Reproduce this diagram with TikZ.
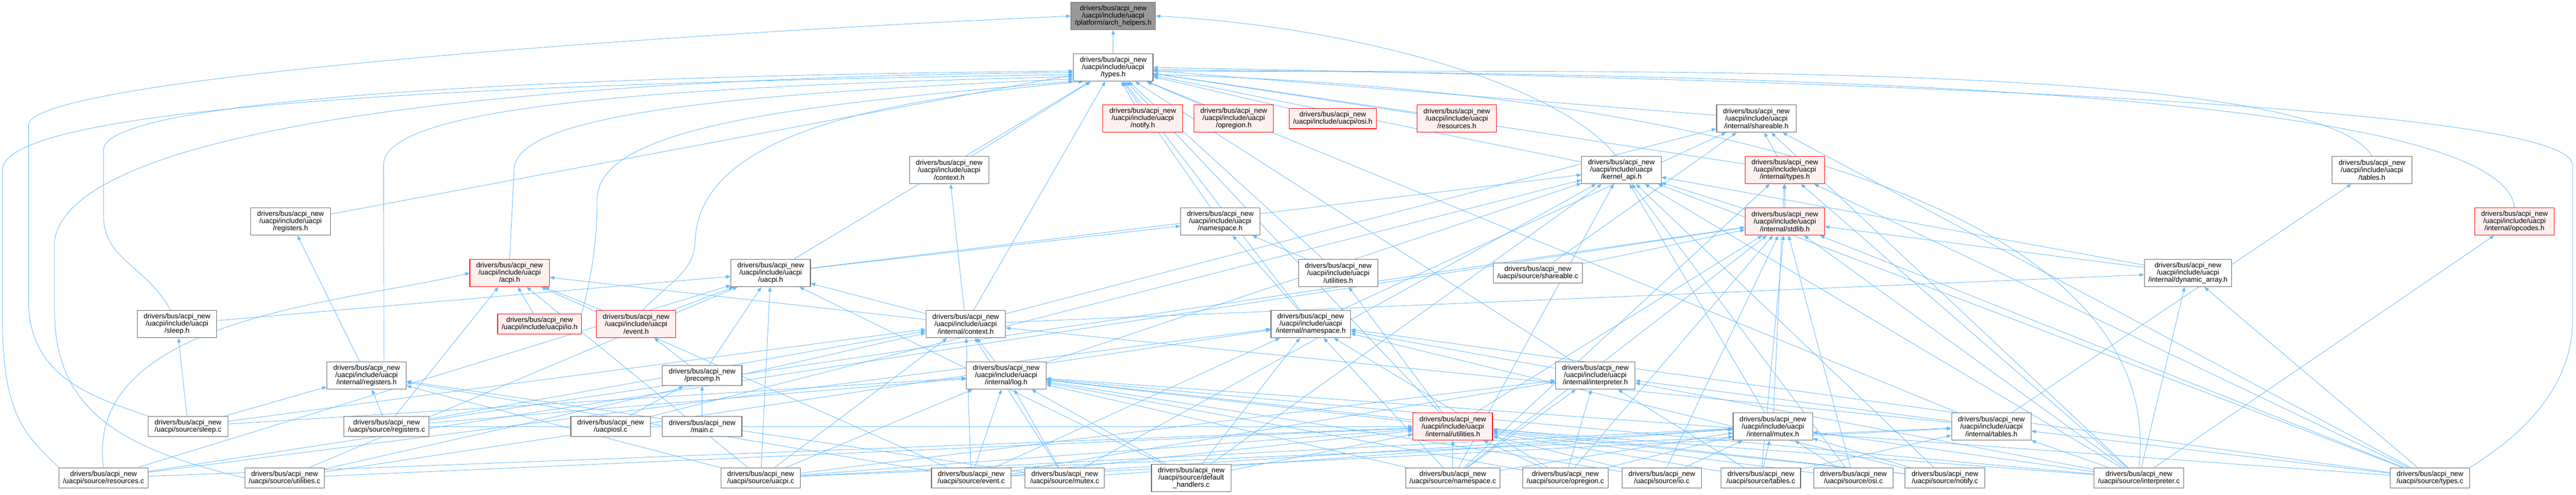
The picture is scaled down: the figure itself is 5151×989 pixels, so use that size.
\documentclass[tikz,border=0pt]{standalone}
\usepackage{fontspec}
\setmainfont{Liberation Sans}
\usetikzlibrary{arrows.meta}
\definecolor{linkblue}{HTML}{63B8FF}
\definecolor{framegray}{HTML}{666666}
\definecolor{truncred}{HTML}{FF0000}
\definecolor{truncfill}{HTML}{FFF0F0}
\definecolor{mainfill}{HTML}{999999}
\pgfdeclarelayer{edges}
\pgfsetlayers{edges,main}
\tikzset{
  file/.style={draw=framegray,line width=1.2pt,fill=white,align=center,
    font=\fontsize{14.2}{14.5}\selectfont,inner xsep=8pt,inner ysep=3pt,
    minimum width=159pt,minimum height=55pt},
  file2/.style={file,minimum height=41pt},
  trunc/.style={draw=truncred,fill=truncfill},
  inc/.style={draw=linkblue,line width=0.9pt,-{Triangle[length=9pt,width=7pt]}}
}
\begin{document}
\begin{tikzpicture}[x=1pt,y=1pt]
\useasboundingbox (0,0) rectangle (5151,-989);
\node[file,fill=mainfill] (archh) at (2226,-32) {drivers/bus/acpi\_new\\/uacpi/include/uacpi\\/platform/arch\_helpers.h};
\node[file] (typesh) at (2226,-135) {drivers/bus/acpi\_new\\/uacpi/include/uacpi\\/types.h};
\node[file,trunc] (notifyh) at (2285,-237) {drivers/bus/acpi\_new\\/uacpi/include/uacpi\\/notify.h};
\node[file,trunc] (opregionh) at (2467,-237) {drivers/bus/acpi\_new\\/uacpi/include/uacpi\\/opregion.h};
\node[file2,trunc] (osih) at (2665,-237) {drivers/bus/acpi\_new\\/uacpi/include/uacpi/osi.h};
\node[file,trunc] (resourcesh) at (2913,-237) {drivers/bus/acpi\_new\\/uacpi/include/uacpi\\/resources.h};
\node[file] (ishareh) at (3512,-237) {drivers/bus/acpi\_new\\/uacpi/include/uacpi\\/internal/shareable.h};
\node[file] (contexth) at (1898,-340) {drivers/bus/acpi\_new\\/uacpi/include/uacpi\\/context.h};
\node[file] (kapih) at (3242,-340) {drivers/bus/acpi\_new\\/uacpi/include/uacpi\\/kernel\_api.h};
\node[file,trunc] (itypesh) at (3569,-340) {drivers/bus/acpi\_new\\/uacpi/include/uacpi\\/internal/types.h};
\node[file] (tablesh) at (4743,-340) {drivers/bus/acpi\_new\\/uacpi/include/uacpi\\/tables.h};
\node[file] (registersh) at (581,-443) {drivers/bus/acpi\_new\\/uacpi/include/uacpi\\/registers.h};
\node[file] (namespaceh) at (2440,-443) {drivers/bus/acpi\_new\\/uacpi/include/uacpi\\/namespace.h};
\node[file,trunc] (istdlibh) at (3569,-443) {drivers/bus/acpi\_new\\/uacpi/include/uacpi\\/internal/stdlib.h};
\node[file,trunc] (iopcodesh) at (5028,-443) {drivers/bus/acpi\_new\\/uacpi/include/uacpi\\/internal/opcodes.h};
\node[file,trunc] (acpih) at (1019,-546) {drivers/bus/acpi\_new\\/uacpi/include/uacpi\\/acpi.h};
\node[file] (uacpih) at (1541,-546) {drivers/bus/acpi\_new\\/uacpi/include/uacpi\\/uacpi.h};
\node[file] (utilitiesh) at (2676,-546) {drivers/bus/acpi\_new\\/uacpi/include/uacpi\\/utilities.h};
\node[file2] (sharec) at (3075,-546) {drivers/bus/acpi\_new\\/uacpi/source/shareable.c};
\node[file] (idynh) at (4375,-546) {drivers/bus/acpi\_new\\/uacpi/include/uacpi\\/internal/dynamic\_array.h};
\node[file] (sleeph) at (354,-648) {drivers/bus/acpi\_new\\/uacpi/include/uacpi\\/sleep.h};
\node[file2,trunc] (ioh) at (1079,-648) {drivers/bus/acpi\_new\\/uacpi/include/uacpi/io.h};
\node[file,trunc] (eventh) at (1272,-648) {drivers/bus/acpi\_new\\/uacpi/include/uacpi\\/event.h};
\node[file] (icontexth) at (1931,-648) {drivers/bus/acpi\_new\\/uacpi/include/uacpi\\/internal/context.h};
\node[file] (inamespaceh) at (2621,-648) {drivers/bus/acpi\_new\\/uacpi/include/uacpi\\/internal/namespace.h};
\node[file] (iregistersh) at (733,-751) {drivers/bus/acpi\_new\\/uacpi/include/uacpi\\/internal/registers.h};
\node[file2] (precomph) at (1404,-751) {drivers/bus/acpi\_new\\/precomp.h};
\node[file] (ilogh) at (2012,-751) {drivers/bus/acpi\_new\\/uacpi/include/uacpi\\/internal/log.h};
\node[file] (iinterph) at (3190,-751) {drivers/bus/acpi\_new\\/uacpi/include/uacpi\\/internal/interpreter.h};
\node[file2] (sleepc) at (376,-853) {drivers/bus/acpi\_new\\/uacpi/source/sleep.c};
\node[file2] (registersc) at (773,-853) {drivers/bus/acpi\_new\\/uacpi/source/registers.c};
\node[file2] (uacpioslc) at (1221,-853) {drivers/bus/acpi\_new\\/uacpiosl.c};
\node[file2] (mainc) at (1404,-853) {drivers/bus/acpi\_new\\/main.c};
\node[file,trunc] (iutilh) at (2905,-853) {drivers/bus/acpi\_new\\/uacpi/include/uacpi\\/internal/utilities.h};
\node[file] (imutexh) at (3545,-853) {drivers/bus/acpi\_new\\/uacpi/include/uacpi\\/internal/mutex.h};
\node[file] (itablesh) at (3982,-853) {drivers/bus/acpi\_new\\/uacpi/include/uacpi\\/internal/tables.h};
\node[file2] (resourcesc) at (207,-956) {drivers/bus/acpi\_new\\/uacpi/source/resources.c};
\node[file2] (utilitiesc) at (569,-956) {drivers/bus/acpi\_new\\/uacpi/source/utilities.c};
\node[file2] (uacpic) at (1521,-956) {drivers/bus/acpi\_new\\/uacpi/source/uacpi.c};
\node[file2] (eventc) at (1942,-956) {drivers/bus/acpi\_new\\/uacpi/source/event.c};
\node[file2] (mutexc) at (2129,-956) {drivers/bus/acpi\_new\\/uacpi/source/mutex.c};
\node[file] (defhandc) at (2382,-956) {drivers/bus/acpi\_new\\/uacpi/source/default\\\_handlers.c};
\node[file2] (namespacec) at (2905,-956) {drivers/bus/acpi\_new\\/uacpi/source/namespace.c};
\node[file2] (opregionc) at (3130,-956) {drivers/bus/acpi\_new\\/uacpi/source/opregion.c};
\node[file2] (ioc) at (3323,-956) {drivers/bus/acpi\_new\\/uacpi/source/io.c};
\node[file2] (tablesc) at (3521,-956) {drivers/bus/acpi\_new\\/uacpi/source/tables.c};
\node[file2] (osic) at (3706,-956) {drivers/bus/acpi\_new\\/uacpi/source/osi.c};
\node[file2] (notifyc) at (3889,-956) {drivers/bus/acpi\_new\\/uacpi/source/notify.c};
\node[file2] (interpc) at (4277,-956) {drivers/bus/acpi\_new\\/uacpi/source/interpreter.c};
\node[file2] (typesc) at (4859,-956) {drivers/bus/acpi\_new\\/uacpi/source/types.c};
\begin{pgfonlayer}{edges}
\draw[inc] (typesh) -- (archh);
\draw[inc] (kapih.110) .. controls +(-120,150) and +(380,-20) .. (archh.east);
\draw[inc] (sleepc.north west) .. controls +(-120,40) and +(0,-150) .. (57,-600) -- (57,-250) .. controls +(0,90) and +(-900,-40) .. (archh.west);
\foreach \s in {notifyh,opregionh,osih,resourcesh,ishareh,contexth,namespaceh,uacpih,icontexth,utilitiesh,inamespaceh,iinterph,iutilh,itablesh,itypesh,kapih,registersh}
  \draw[inc] (\s) -- (typesh);
\draw[inc] (resourcesc.north west) .. controls +(-60,60) and +(0,-200) .. (5,-640) -- (5,-340) .. controls +(0,140) and +(-1000,-15) .. (typesh.190);
\draw[inc] (utilitiesc.west) .. controls +(-250,60) and +(0,-200) .. (109,-620) -- (109,-480) .. controls +(40,230) and +(-1100,-10) .. (typesh.187);
\draw[inc] (sleeph.115) .. controls +(-50,90) and +(0,-90) .. (207,-430) -- (207,-300) .. controls +(0,100) and +(-1100,-10) .. (typesh.185);
\draw[inc] (iregistersh.39) -- (767,-330) .. controls +(0,110) and +(-900,-20) .. (typesh.193);
\draw[inc] (acpih.north) -- (1028,-340) .. controls +(0,110) and +(-700,-30) .. (typesh.196);
\draw[inc] (ioh.north east) .. controls +(15,60) and +(0,-100) .. (1194,-400) .. controls +(0,140) and +(-600,-50) .. (typesh.199);
\draw[inc] (eventh.65) .. controls +(60,60) and +(0,-60) .. (1390,-480) .. controls +(10,200) and +(-450,-40) .. (typesh.205);
\draw[inc] (tablesh.north) .. controls +(-120,200) and +(800,-5) .. (typesh.355);
\draw[inc] (iopcodesh.north) .. controls +(-30,260) and +(900,-10) .. (typesh.357);
\draw[inc] (typesc.north east) .. controls +(80,50) and +(0,-150) .. (5144,-640) -- (5144,-330) .. controls +(0,130) and +(1100,-20) .. (typesh.east);
\draw[inc] (interpc.north) .. controls +(60,520) and +(1100,-30) .. (typesh.350);
\foreach \s in {itypesh,inamespaceh,icontexth,sharec,typesc,interpc}
  \draw[inc] (\s) -- (ishareh);
\draw[inc] (icontexth) -- (contexth);
\foreach \s in {uacpih,istdlibh,idynh,ilogh,imutexh,uacpioslc,notifyc,osic,namespacec,defhandc,mutexc,typesc,interpc}
  \draw[inc] (\s) -- (kapih);
\foreach \s in {istdlibh,imutexh,namespacec,typesc,interpc}
  \draw[inc] (\s) -- (itypesh);
\draw[inc] (itablesh) -- (tablesh);
\draw[inc] (iregistersh) -- (registersh);
\foreach \s in {uacpih,utilitiesh,inamespaceh}
  \draw[inc] (\s) -- (namespaceh);
\foreach \s in {idynh,iutilh,sharec,typesc,osic,tablesc,ioc,opregionc,namespacec,interpc,registersc,resourcesc}
  \draw[inc] (\s) -- (istdlibh);
\draw[inc] (interpc) -- (iopcodesh);
\foreach \s in {ioh,eventh,icontexth,registersc,uacpic,eventc}
  \draw[inc] (\s) -- (acpih);
\draw[inc] (resourcesc.north) .. controls +(-40,300) and +(-250,-60) .. (acpih.west);
\foreach \s in {sleeph,eventh,icontexth,precomph,utilitiesc,uacpic,defhandc,resourcesc}
  \draw[inc] (\s) -- (uacpih);
\draw[inc] (iutilh) -- (utilitiesh);
\foreach \s in {icontexth,typesc,interpc}
  \draw[inc] (\s) -- (idynh);
\draw[inc] (sleepc) -- (sleeph);
\draw[inc] (precomph) -- (eventh);
\foreach \s in {ilogh,eventc,uacpic,sleepc,registersc,utilitiesc,itablesh,mutexc}
  \draw[inc] (\s) -- (icontexth);
\foreach \s in {iinterph,namespacec,opregionc,defhandc,typesc,eventc,notifyc,utilitiesc,resourcesc}
  \draw[inc] (\s) -- (inamespaceh);
\foreach \s in {sleepc,registersc,eventc,mutexc,uacpic}
  \draw[inc] (\s) -- (iregistersh);
\foreach \s in {uacpioslc,mainc}
  \draw[inc] (\s) -- (precomph);
\foreach \s in {iutilh,sleepc,registersc,uacpic,eventc,mutexc,defhandc,namespacec,opregionc,ioc,notifyc,interpc,typesc}
  \draw[inc] (\s) -- (ilogh);
\foreach \s in {itablesh,uacpic,namespacec,opregionc,tablesc,eventc,interpc}
  \draw[inc] (\s) -- (iinterph);
\foreach \s in {uacpic,eventc,registersc,utilitiesc,resourcesc,defhandc,namespacec,opregionc,ioc,tablesc,osic,notifyc,interpc}
  \draw[inc] (\s) -- (iutilh);
\foreach \s in {uacpic,eventc,mutexc,namespacec,opregionc,ioc,tablesc,osic,notifyc,interpc}
  \draw[inc] (\s) -- (imutexh);
\foreach \s in {tablesc,uacpic,eventc,typesc,interpc}
  \draw[inc] (\s) -- (itablesh);
\end{pgfonlayer}
\end{tikzpicture}
\end{document}
